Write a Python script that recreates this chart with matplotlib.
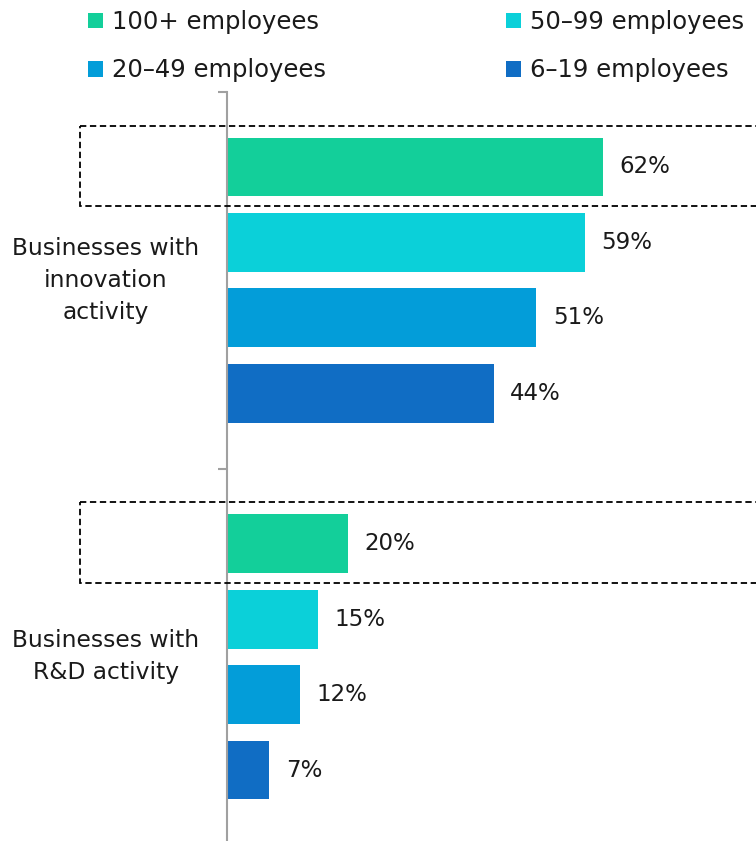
import matplotlib
matplotlib.use("Agg")
import matplotlib.pyplot as plt
from matplotlib.patches import Rectangle, Patch

plt.rcParams['font.family'] = ['DejaVu Sans']

# ---- data ----
groups = ["Businesses with\ninnovation\nactivity", "Businesses with\nR&D activity"]
series = ["100+ employees", "50\u201399 employees", "20\u201349 employees", "6\u201319 employees"]
innovation_vals = [62, 59, 51, 44]
rd_vals = [20, 15, 12, 7]
colors = ["#13CF9A", "#0BD0D9", "#039DD9", "#106DC4"]

fig = plt.figure(figsize=(7.56, 8.41), dpi=100)
ax = fig.add_axes([227/756, (841-845.4)/841, 1-227/756, (845.4-91.6)/841])

group_vals = [innovation_vals, rd_vals]
group_start = [0, 5]
bar_h = 0.78
label_fs = 16.5

for gi, vals in enumerate(group_vals):
    for si, v in enumerate(vals):
        y = group_start[gi] + si
        ax.barh(y, v, height=bar_h, color=colors[si], edgecolor='none')
        ax.annotate(f"{v}%", xy=(v, y), xytext=(12, 0), textcoords='offset points',
                    ha='left', va='center', fontsize=label_fs, color='#1a1a1a')
    # dashed highlight box around the 100+ bar
    y0 = group_start[gi]
    rect = Rectangle((-24.3, y0 - 0.55), 130, 1.07, fill=False, edgecolor='black',
                     linestyle=(0, (3.5, 2)), linewidth=1.3, clip_on=False, zorder=5)
    ax.add_patch(rect)
    # category label
    ax.text(-20, y0 + 1.5, groups[gi], ha='center', va='center', multialignment='center',
            fontsize=16.8, color='#1a1a1a', linespacing=1.5)

ax.set_xlim(0, (756-227)/6.06)
ax.set_ylim(9, -1)
ax.set_yticks([-1, 4, 9])
ax.set_yticklabels([])
ax.set_xticks([])
for s in ['top', 'right', 'bottom']:
    ax.spines[s].set_visible(False)
ax.spines['left'].set_color('#A0A0A0')
ax.spines['left'].set_linewidth(1.5)
ax.tick_params(axis='y', direction='out', length=6.5, width=1.5, color='#A0A0A0')

handles = [Patch(facecolor=c, edgecolor='none') for c in colors]
order = [0, 2, 1, 3]
leg_fs = 17.5
leg = fig.legend([handles[i] for i in order], [series[i] for i in order], ncol=2,
                 loc='upper left', bbox_to_anchor=(82/756, 1.0 - 4/841), frameon=False,
                 fontsize=leg_fs, handlelength=0.62, handleheight=0.62,
                 handletextpad=0.37, columnspacing=7.4, labelspacing=1.0,
                 borderaxespad=0.0, borderpad=0.25)
for t in leg.get_texts():
    t.set_color('#1a1a1a')

fig.savefig("out.png", dpi=100)
